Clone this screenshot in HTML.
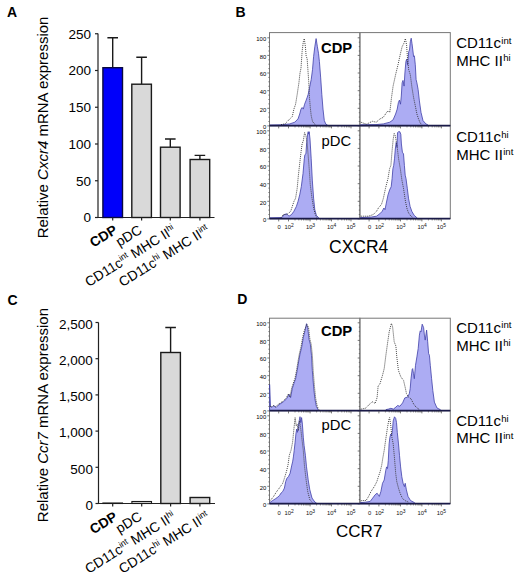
<!DOCTYPE html>
<html><head><meta charset="utf-8"><style>
html,body{margin:0;padding:0;background:#fff;width:520px;height:579px;overflow:hidden}
svg{display:block}
</style></head><body>
<svg width="520" height="579" viewBox="0 0 520 579" font-family='"Liberation Sans", sans-serif' fill="#000">
<rect width="520" height="579" fill="#fff"/>
<text x="7.0" y="17.1" font-weight="bold" font-size="14">A</text>
<text transform="translate(48.3,238.3) rotate(-90)" font-size="15">Relative <tspan font-style="italic">Cxcr4</tspan> mRNA expression</text>
<path d="M98,33.5 V217.5 H214.5" fill="none" stroke="#222" stroke-width="1.2"/>
<path d="M95,217.5 H98" stroke="#222" stroke-width="1.2"/>
<text x="91.0" y="222.4" font-size="13.5" text-anchor="end">0</text>
<path d="M95,180.75 H98" stroke="#222" stroke-width="1.2"/>
<text x="91.0" y="185.7" font-size="13.5" text-anchor="end">50</text>
<path d="M95,144.0 H98" stroke="#222" stroke-width="1.2"/>
<text x="91.0" y="148.9" font-size="13.5" text-anchor="end">100</text>
<path d="M95,107.25 H98" stroke="#222" stroke-width="1.2"/>
<text x="91.0" y="112.2" font-size="13.5" text-anchor="end">150</text>
<path d="M95,70.5 H98" stroke="#222" stroke-width="1.2"/>
<text x="91.0" y="75.4" font-size="13.5" text-anchor="end">200</text>
<path d="M95,33.75 H98" stroke="#222" stroke-width="1.2"/>
<text x="91.0" y="38.6" font-size="13.5" text-anchor="end">250</text>
<path d="M112.7,67.7 V37.8 M107.4,37.8 H118.0" stroke="#1a1a1a" stroke-width="1.4" fill="none"/>
<rect x="102.9" y="67.7" width="19.6" height="149.8" fill="#0000fa" stroke="#0a0a40" stroke-width="1.4"/>
<path d="M112.7,217.5 V220.5" stroke="#222" stroke-width="1.2"/>
<path d="M141.6,84.2 V57.2 M136.29999999999998,57.2 H146.9" stroke="#1a1a1a" stroke-width="1.4" fill="none"/>
<rect x="131.8" y="84.2" width="19.6" height="133.3" fill="#d9d9d9" stroke="#1a1a1a" stroke-width="1.4"/>
<path d="M141.6,217.5 V220.5" stroke="#222" stroke-width="1.2"/>
<path d="M170.3,147.2 V139.0 M165.0,139.0 H175.60000000000002" stroke="#1a1a1a" stroke-width="1.4" fill="none"/>
<rect x="160.5" y="147.2" width="19.6" height="70.3" fill="#d9d9d9" stroke="#1a1a1a" stroke-width="1.4"/>
<path d="M170.3,217.5 V220.5" stroke="#222" stroke-width="1.2"/>
<path d="M199.9,159.5 V155.4 M194.6,155.4 H205.20000000000002" stroke="#1a1a1a" stroke-width="1.4" fill="none"/>
<rect x="190.1" y="159.5" width="19.6" height="58.0" fill="#d9d9d9" stroke="#1a1a1a" stroke-width="1.4"/>
<path d="M199.9,217.5 V220.5" stroke="#222" stroke-width="1.2"/>
<text transform="translate(118.3,232.4) rotate(-32)" font-size="13.8" text-anchor="end"><tspan font-weight="bold">CDP</tspan></text>
<text transform="translate(143.0,232.4) rotate(-32)" font-size="13.8" text-anchor="end">pDC</text>
<text transform="translate(176.6,232.4) rotate(-32)" font-size="13.8" text-anchor="end">CD11c<tspan font-size="8.6" dy="-5">int</tspan><tspan dy="5"> MHC II</tspan><tspan font-size="8.6" dy="-5">hi</tspan></text>
<text transform="translate(210.5,232.4) rotate(-32)" font-size="13.8" text-anchor="end">CD11c<tspan font-size="8.6" dy="-5">hi</tspan><tspan dy="5"> MHC II</tspan><tspan font-size="8.6" dy="-5">int</tspan></text>
<text x="7.5" y="304.6" font-weight="bold" font-size="14">C</text>
<text transform="translate(48.3,522.2) rotate(-90)" font-size="15">Relative <tspan font-style="italic">Ccr7</tspan> mRNA expression</text>
<path d="M98.5,322.5 V503.5 H215.0" fill="none" stroke="#222" stroke-width="1.2"/>
<path d="M95.5,503.5 H98.5" stroke="#222" stroke-width="1.2"/>
<text x="92.9" y="509.7" font-size="13.5" text-anchor="end">0</text>
<path d="M95.5,467.3 H98.5" stroke="#222" stroke-width="1.2"/>
<text x="92.9" y="473.5" font-size="13.5" text-anchor="end">500</text>
<path d="M95.5,431.1 H98.5" stroke="#222" stroke-width="1.2"/>
<text x="92.9" y="437.3" font-size="13.5" text-anchor="end">1,000</text>
<path d="M95.5,394.9 H98.5" stroke="#222" stroke-width="1.2"/>
<text x="92.9" y="401.1" font-size="13.5" text-anchor="end">1,500</text>
<path d="M95.5,358.7 H98.5" stroke="#222" stroke-width="1.2"/>
<text x="92.9" y="364.9" font-size="13.5" text-anchor="end">2,000</text>
<path d="M95.5,322.5 H98.5" stroke="#222" stroke-width="1.2"/>
<text x="92.9" y="328.7" font-size="13.5" text-anchor="end">2,500</text>
<rect x="102.9" y="503.0" width="19.6" height="0.5" fill="#d9d9d9" stroke="#1a1a1a" stroke-width="1.1"/>
<path d="M112.7,503.5 V506.5" stroke="#222" stroke-width="1.2"/>
<rect x="131.9" y="501.5" width="19.6" height="2.0" fill="#d9d9d9" stroke="#1a1a1a" stroke-width="1.1"/>
<path d="M141.7,503.5 V506.5" stroke="#222" stroke-width="1.2"/>
<path d="M170.6,352.5 V327.5 M165.29999999999998,327.5 H175.9" stroke="#1a1a1a" stroke-width="1.4" fill="none"/>
<rect x="160.8" y="352.5" width="19.6" height="151.0" fill="#d9d9d9" stroke="#1a1a1a" stroke-width="1.4"/>
<path d="M170.6,503.5 V506.5" stroke="#222" stroke-width="1.2"/>
<rect x="190.1" y="497.5" width="19.6" height="6.0" fill="#d9d9d9" stroke="#1a1a1a" stroke-width="1.4"/>
<path d="M199.9,503.5 V506.5" stroke="#222" stroke-width="1.2"/>
<text transform="translate(118.3,519.0) rotate(-32)" font-size="13.8" text-anchor="end"><tspan font-weight="bold">CDP</tspan></text>
<text transform="translate(143.0,519.0) rotate(-32)" font-size="13.8" text-anchor="end">pDC</text>
<text transform="translate(176.6,519.0) rotate(-32)" font-size="13.8" text-anchor="end">CD11c<tspan font-size="8.6" dy="-5">int</tspan><tspan dy="5"> MHC II</tspan><tspan font-size="8.6" dy="-5">hi</tspan></text>
<text transform="translate(210.5,519.0) rotate(-32)" font-size="13.8" text-anchor="end">CD11c<tspan font-size="8.6" dy="-5">hi</tspan><tspan dy="5"> MHC II</tspan><tspan font-size="8.6" dy="-5">int</tspan></text>
<text x="279.2" y="229.1" font-size="5.8" text-anchor="middle" fill="#111">0</text>
<text x="289.1" y="229.1" font-size="5.8" text-anchor="middle" fill="#111">10<tspan font-size="4.9" dy="-2.2">2</tspan></text>
<text x="310.5" y="229.1" font-size="5.8" text-anchor="middle" fill="#111">10<tspan font-size="4.9" dy="-2.2">3</tspan></text>
<text x="331.7" y="229.1" font-size="5.8" text-anchor="middle" fill="#111">10<tspan font-size="4.9" dy="-2.2">4</tspan></text>
<text x="351.0" y="229.1" font-size="5.8" text-anchor="middle" fill="#111">10<tspan font-size="4.9" dy="-2.2">5</tspan></text>
<text x="369.6" y="229.1" font-size="5.8" text-anchor="middle" fill="#111">0</text>
<text x="379.5" y="229.1" font-size="5.8" text-anchor="middle" fill="#111">10<tspan font-size="4.9" dy="-2.2">2</tspan></text>
<text x="400.9" y="229.1" font-size="5.8" text-anchor="middle" fill="#111">10<tspan font-size="4.9" dy="-2.2">3</tspan></text>
<text x="422.1" y="229.1" font-size="5.8" text-anchor="middle" fill="#111">10<tspan font-size="4.9" dy="-2.2">4</tspan></text>
<text x="441.4" y="229.1" font-size="5.8" text-anchor="middle" fill="#111">10<tspan font-size="4.9" dy="-2.2">5</tspan></text>
<text x="279.2" y="515.1" font-size="5.8" text-anchor="middle" fill="#111">0</text>
<text x="289.1" y="515.1" font-size="5.8" text-anchor="middle" fill="#111">10<tspan font-size="4.9" dy="-2.2">2</tspan></text>
<text x="310.5" y="515.1" font-size="5.8" text-anchor="middle" fill="#111">10<tspan font-size="4.9" dy="-2.2">3</tspan></text>
<text x="331.7" y="515.1" font-size="5.8" text-anchor="middle" fill="#111">10<tspan font-size="4.9" dy="-2.2">4</tspan></text>
<text x="351.0" y="515.1" font-size="5.8" text-anchor="middle" fill="#111">10<tspan font-size="4.9" dy="-2.2">5</tspan></text>
<text x="369.6" y="515.1" font-size="5.8" text-anchor="middle" fill="#111">0</text>
<text x="379.5" y="515.1" font-size="5.8" text-anchor="middle" fill="#111">10<tspan font-size="4.9" dy="-2.2">2</tspan></text>
<text x="400.9" y="515.1" font-size="5.8" text-anchor="middle" fill="#111">10<tspan font-size="4.9" dy="-2.2">3</tspan></text>
<text x="422.1" y="515.1" font-size="5.8" text-anchor="middle" fill="#111">10<tspan font-size="4.9" dy="-2.2">4</tspan></text>
<text x="441.4" y="515.1" font-size="5.8" text-anchor="middle" fill="#111">10<tspan font-size="4.9" dy="-2.2">5</tspan></text>
<rect x="269.5" y="32.6" width="90.4" height="93.0" fill="none" stroke="#777" stroke-width="1"/>
<rect x="359.9" y="32.6" width="90.4" height="93.0" fill="none" stroke="#777" stroke-width="1"/>
<rect x="269.5" y="125.6" width="90.4" height="93.0" fill="none" stroke="#777" stroke-width="1"/>
<rect x="359.9" y="125.6" width="90.4" height="93.0" fill="none" stroke="#777" stroke-width="1"/>
<rect x="269.5" y="318.2" width="90.4" height="92.40000000000003" fill="none" stroke="#777" stroke-width="1"/>
<rect x="359.9" y="318.2" width="90.4" height="92.40000000000003" fill="none" stroke="#777" stroke-width="1"/>
<rect x="269.5" y="410.6" width="90.4" height="93.0" fill="none" stroke="#777" stroke-width="1"/>
<rect x="359.9" y="410.6" width="90.4" height="93.0" fill="none" stroke="#777" stroke-width="1"/>
<path d="M270.0,125.6 L270.0,125.0 L282.0,124.8 L289.8,123.9 L294.8,122.2 L298.0,118.9 L299.7,114.0 L301.0,109.1 L302.1,107.5 L303.3,109.1 L304.6,104.2 L305.9,100.9 L307.1,97.6 L308.2,94.3 L309.5,87.8 L311.2,79.6 L312.5,69.7 L313.6,56.6 L314.8,46.8 L316.1,38.6 L317.4,46.8 L318.5,53.3 L319.4,61.5 L320.7,77.9 L321.8,94.3 L323.0,109.1 L324.3,120.6 L325.9,124.2 L327.5,125.0 L327.5,125.6 Z" fill="#acacf3" stroke="#4040a8" stroke-width="0.8" stroke-linejoin="round"/>
<path d="M281.0,124.6 L284.9,123.9 L287.4,121.4 L289.8,118.9 L292.3,116.5 L293.9,109.1 L295.6,104.2 L297.2,94.3 L298.9,82.9 L300.0,73.0 L301.0,68.1 L302.1,51.7 L303.3,41.8 L304.3,38.6 L305.4,46.8 L306.2,56.6 L307.1,58.2 L307.9,69.7 L308.7,81.2 L309.5,97.6 L310.3,107.5 L311.2,115.7 L312.5,121.4 L314.4,123.9 L316.0,124.8" fill="none" stroke="#333" stroke-width="0.9" stroke-dasharray="1,1"/>
<text x="266.2" y="129.2" font-size="5.9" text-anchor="end" fill="#000">0</text>
<text x="266.2" y="111.6" font-size="5.9" text-anchor="end" fill="#000">20</text>
<text x="266.2" y="94.0" font-size="5.9" text-anchor="end" fill="#000">40</text>
<text x="266.2" y="76.3" font-size="5.9" text-anchor="end" fill="#000">60</text>
<text x="266.2" y="58.7" font-size="5.9" text-anchor="end" fill="#000">80</text>
<text x="266.2" y="41.1" font-size="5.9" text-anchor="end" fill="#000">100</text>
<path d="M267.3,125.9 H269.5 M268.4,121.5 H269.5 M268.4,117.1 H269.5 M268.4,112.7 H269.5 M267.3,108.3 H269.5 M268.4,103.9 H269.5 M268.4,99.5 H269.5 M268.4,95.1 H269.5 M267.3,90.7 H269.5 M268.4,86.3 H269.5 M268.4,81.8 H269.5 M268.4,77.4 H269.5 M267.3,73.0 H269.5 M268.4,68.6 H269.5 M268.4,64.2 H269.5 M268.4,59.8 H269.5 M267.3,55.4 H269.5 M268.4,51.0 H269.5 M268.4,46.6 H269.5 M268.4,42.2 H269.5 M267.3,37.8 H269.5" stroke="#555" stroke-width="0.8"/>
<path d="M360.5,125.6 L360.5,124.8 L376.0,124.6 L383.3,123.9 L389.8,122.2 L393.1,119.8 L395.6,114.0 L397.2,109.1 L398.4,102.5 L399.4,100.1 L400.5,104.2 L401.3,96.0 L402.1,82.9 L403.0,80.4 L404.1,86.1 L404.9,73.0 L405.9,61.5 L406.7,59.1 L407.6,64.8 L408.7,51.7 L409.5,50.0 L410.3,41.8 L411.2,38.2 L412.0,43.5 L412.8,50.0 L413.6,56.6 L414.4,55.8 L415.3,64.8 L416.1,79.6 L416.9,82.9 L418.1,89.4 L419.4,100.9 L421.0,112.4 L423.0,120.6 L425.9,123.9 L428.0,125.0 L428.0,125.6 Z" fill="#acacf3" stroke="#4040a8" stroke-width="0.8" stroke-linejoin="round"/>
<path d="M360.8,122.2 L366.5,124.2 L372.3,121.3 L376.2,122.2 L380.0,118.9 L383.3,117.3 L386.6,112.4 L388.2,110.7 L389.8,112.4 L391.5,97.6 L393.1,86.1 L395.6,74.7 L398.0,64.8 L400.5,53.3 L402.1,46.8 L403.8,43.5 L405.4,38.6 L406.6,45.1 L407.6,59.9 L408.7,69.7 L410.3,74.7 L412.0,87.8 L413.6,97.6 L415.3,105.8 L416.9,114.0 L418.5,118.9 L420.2,123.0 L422.0,124.8" fill="none" stroke="#333" stroke-width="0.9" stroke-dasharray="1,1"/>
<path d="M357.7,125.9 H359.9 M358.79999999999995,121.5 H359.9 M358.79999999999995,117.1 H359.9 M358.79999999999995,112.7 H359.9 M357.7,108.3 H359.9 M358.79999999999995,103.9 H359.9 M358.79999999999995,99.5 H359.9 M358.79999999999995,95.1 H359.9 M357.7,90.7 H359.9 M358.79999999999995,86.3 H359.9 M358.79999999999995,81.8 H359.9 M358.79999999999995,77.4 H359.9 M357.7,73.0 H359.9 M358.79999999999995,68.6 H359.9 M358.79999999999995,64.2 H359.9 M358.79999999999995,59.8 H359.9 M357.7,55.4 H359.9 M358.79999999999995,51.0 H359.9 M358.79999999999995,46.6 H359.9 M358.79999999999995,42.2 H359.9 M357.7,37.8 H359.9" stroke="#555" stroke-width="0.8"/>
<path d="M270.0,218.6 L270.0,217.8 L282.0,217.5 L284.1,214.6 L286.6,213.8 L289.0,216.2 L291.5,214.6 L293.9,211.3 L296.4,206.4 L298.0,201.5 L299.7,194.9 L301.3,186.7 L303.0,173.6 L304.3,158.8 L304.9,154.7 L305.9,153.9 L306.7,142.4 L307.6,134.2 L308.2,131.7 L308.7,134.2 L309.2,131.7 L310.0,139.1 L311.2,158.8 L312.3,180.1 L313.6,198.2 L314.8,209.7 L316.4,215.4 L318.5,217.5 L318.5,218.6 Z" fill="#acacf3" stroke="#4040a8" stroke-width="0.8" stroke-linejoin="round"/>
<path d="M281.0,217.6 L283.3,214.6 L286.6,214.6 L289.0,212.9 L290.7,211.3 L292.3,206.4 L293.9,201.5 L295.6,198.2 L297.2,188.3 L298.4,175.2 L299.7,163.7 L301.0,152.2 L302.1,144.0 L303.3,140.8 L304.6,132.6 L305.9,135.8 L307.1,142.4 L307.9,152.2 L309.2,168.7 L310.3,185.1 L312.0,198.2 L313.6,208.0 L315.3,214.6 L316.9,217.5" fill="none" stroke="#333" stroke-width="0.9" stroke-dasharray="1,1"/>
<text x="266.2" y="222.2" font-size="5.9" text-anchor="end" fill="#000">0</text>
<text x="266.2" y="204.6" font-size="5.9" text-anchor="end" fill="#000">20</text>
<text x="266.2" y="187.0" font-size="5.9" text-anchor="end" fill="#000">40</text>
<text x="266.2" y="169.3" font-size="5.9" text-anchor="end" fill="#000">60</text>
<text x="266.2" y="151.7" font-size="5.9" text-anchor="end" fill="#000">80</text>
<text x="266.2" y="134.1" font-size="5.9" text-anchor="end" fill="#000">100</text>
<path d="M267.3,218.9 H269.5 M268.4,214.5 H269.5 M268.4,210.1 H269.5 M268.4,205.7 H269.5 M267.3,201.3 H269.5 M268.4,196.9 H269.5 M268.4,192.5 H269.5 M268.4,188.1 H269.5 M267.3,183.7 H269.5 M268.4,179.3 H269.5 M268.4,174.8 H269.5 M268.4,170.4 H269.5 M267.3,166.0 H269.5 M268.4,161.6 H269.5 M268.4,157.2 H269.5 M268.4,152.8 H269.5 M267.3,148.4 H269.5 M268.4,144.0 H269.5 M268.4,139.6 H269.5 M268.4,135.2 H269.5 M267.3,130.8 H269.5" stroke="#555" stroke-width="0.8"/>
<path d="M360.5,218.6 L360.5,217.6 L371.6,217.0 L376.5,216.2 L379.8,213.8 L382.2,211.3 L383.9,208.0 L385.0,209.7 L386.3,203.1 L388.0,194.9 L389.6,190.0 L391.2,186.7 L392.1,178.5 L392.9,168.7 L393.7,165.4 L394.5,158.8 L395.3,149.0 L396.2,142.4 L397.0,147.3 L397.5,132.6 L398.6,131.7 L399.8,131.7 L400.8,134.2 L401.4,144.0 L402.4,152.2 L403.5,153.9 L404.4,165.4 L405.2,175.2 L406.0,178.5 L407.3,188.3 L408.5,198.2 L410.1,206.4 L411.8,211.3 L414.2,215.4 L416.7,217.5 L416.7,218.6 Z" fill="#acacf3" stroke="#4040a8" stroke-width="0.8" stroke-linejoin="round"/>
<path d="M360.8,216.2 L368.3,216.2 L373.2,214.6 L376.5,211.3 L378.9,207.2 L381.4,204.7 L383.4,198.2 L385.5,188.3 L388.0,178.5 L389.6,168.7 L390.9,165.4 L392.1,150.6 L393.2,139.1 L394.2,133.4 L395.3,135.8 L397.0,145.7 L398.6,158.8 L400.3,168.7 L401.9,180.1 L403.5,188.3 L405.2,199.8 L406.8,208.0 L408.5,212.9 L410.9,216.2 L413.0,217.5" fill="none" stroke="#333" stroke-width="0.9" stroke-dasharray="1,1"/>
<path d="M357.7,218.9 H359.9 M358.79999999999995,214.5 H359.9 M358.79999999999995,210.1 H359.9 M358.79999999999995,205.7 H359.9 M357.7,201.3 H359.9 M358.79999999999995,196.9 H359.9 M358.79999999999995,192.5 H359.9 M358.79999999999995,188.1 H359.9 M357.7,183.7 H359.9 M358.79999999999995,179.3 H359.9 M358.79999999999995,174.8 H359.9 M358.79999999999995,170.4 H359.9 M357.7,166.0 H359.9 M358.79999999999995,161.6 H359.9 M358.79999999999995,157.2 H359.9 M358.79999999999995,152.8 H359.9 M357.7,148.4 H359.9 M358.79999999999995,144.0 H359.9 M358.79999999999995,139.6 H359.9 M358.79999999999995,135.2 H359.9 M357.7,130.8 H359.9" stroke="#555" stroke-width="0.8"/>
<path d="M269.6,410.6 L269.6,384.4 L270.5,406.6 L272.1,407.4 L273.7,405.8 L276.2,407.4 L278.7,404.9 L281.1,403.3 L283.6,401.7 L285.2,400.0 L286.9,398.4 L289.0,394.3 L290.6,397.6 L292.3,388.5 L293.9,383.6 L295.6,378.7 L297.2,370.5 L298.8,360.7 L300.0,354.1 L301.6,347.5 L303.3,337.7 L304.9,331.1 L306.5,323.7 L307.7,327.8 L309.0,339.3 L310.3,344.2 L311.5,355.7 L312.3,370.5 L313.6,386.9 L314.8,398.4 L316.4,406.6 L318.0,409.5 L318.0,410.6 Z" fill="#acacf3" stroke="#4040a8" stroke-width="0.8" stroke-linejoin="round"/>
<path d="M269.9,406.1 L271.5,406.9 L273.1,405.3 L275.6,406.9 L278.1,404.4 L280.5,402.8 L283.0,401.2 L284.6,399.5 L286.3,397.9 L288.4,393.8 L290.0,397.1 L291.7,388.0 L293.3,383.1 L295.0,378.2 L296.6,370.0 L298.2,360.2 L299.4,353.6 L301.0,347.0 L302.7,337.2 L304.3,330.6 L306.9,324.4 L308.6,327.8 L309.9,339.3 L311.2,344.2 L312.4,355.7 L313.2,370.5 L314.5,386.9 L315.7,398.4 L317.3,406.6 L318.9,409.5" fill="none" stroke="#333" stroke-width="0.9" stroke-dasharray="1,1"/>
<text x="266.2" y="414.2" font-size="5.9" text-anchor="end" fill="#000">0</text>
<text x="266.2" y="396.6" font-size="5.9" text-anchor="end" fill="#000">20</text>
<text x="266.2" y="379.0" font-size="5.9" text-anchor="end" fill="#000">40</text>
<text x="266.2" y="361.3" font-size="5.9" text-anchor="end" fill="#000">60</text>
<text x="266.2" y="343.7" font-size="5.9" text-anchor="end" fill="#000">80</text>
<text x="266.2" y="326.1" font-size="5.9" text-anchor="end" fill="#000">100</text>
<path d="M267.3,410.9 H269.5 M268.4,406.5 H269.5 M268.4,402.1 H269.5 M268.4,397.7 H269.5 M267.3,393.3 H269.5 M268.4,388.9 H269.5 M268.4,384.5 H269.5 M268.4,380.1 H269.5 M267.3,375.7 H269.5 M268.4,371.3 H269.5 M268.4,366.9 H269.5 M268.4,362.4 H269.5 M267.3,358.0 H269.5 M268.4,353.6 H269.5 M268.4,349.2 H269.5 M268.4,344.8 H269.5 M267.3,340.4 H269.5 M268.4,336.0 H269.5 M268.4,331.6 H269.5 M268.4,327.2 H269.5 M267.3,322.8 H269.5" stroke="#555" stroke-width="0.8"/>
<path d="M386.0,410.6 L386.0,409.6 L388.4,409.1 L390.9,408.3 L393.4,409.1 L395.9,407.1 L397.6,405.5 L399.8,406.3 L402.6,402.9 L404.8,397.9 L407.6,397.1 L409.3,393.7 L410.2,388.7 L411.0,378.7 L412.2,369.4 L412.7,368.6 L413.5,373.6 L414.3,378.7 L415.5,365.3 L416.9,356.9 L418.2,348.5 L419.4,335.1 L420.2,330.9 L421.0,331.8 L422.2,324.2 L423.6,327.6 L424.4,335.1 L425.2,340.1 L426.6,330.1 L427.7,341.8 L428.6,353.5 L429.4,355.2 L430.3,365.3 L431.6,378.7 L432.8,390.4 L434.4,402.1 L437.0,408.0 L440.3,409.6 L440.3,410.6 Z" fill="#acacf3" stroke="#4040a8" stroke-width="0.8" stroke-linejoin="round"/>
<path d="M360.8,409.2 L365.6,408.2 L369.4,404.3 L372.3,401.8 L375.2,403.4 L377.1,397.6 L378.1,386.2 L380.0,383.7 L382.5,375.3 L384.2,368.6 L385.9,355.2 L387.5,343.5 L389.2,331.8 L391.4,323.4 L392.6,326.7 L394.2,341.8 L395.9,346.0 L396.8,356.9 L398.4,370.3 L400.9,377.0 L403.5,380.3 L405.1,387.0 L406.5,393.7 L408.5,397.1 L411.0,398.8 L413.5,403.8 L416.0,407.1 L419.4,409.6" fill="none" stroke="#333" stroke-width="0.9" stroke-dasharray="1,1"/>
<path d="M357.7,410.9 H359.9 M358.79999999999995,406.5 H359.9 M358.79999999999995,402.1 H359.9 M358.79999999999995,397.7 H359.9 M357.7,393.3 H359.9 M358.79999999999995,388.9 H359.9 M358.79999999999995,384.5 H359.9 M358.79999999999995,380.1 H359.9 M357.7,375.7 H359.9 M358.79999999999995,371.3 H359.9 M358.79999999999995,366.9 H359.9 M358.79999999999995,362.4 H359.9 M357.7,358.0 H359.9 M358.79999999999995,353.6 H359.9 M358.79999999999995,349.2 H359.9 M358.79999999999995,344.8 H359.9 M357.7,340.4 H359.9 M358.79999999999995,336.0 H359.9 M358.79999999999995,331.6 H359.9 M358.79999999999995,327.2 H359.9 M357.7,322.8 H359.9" stroke="#555" stroke-width="0.8"/>
<path d="M269.8,503.6 L269.8,502.5 L270.5,502.0 L272.9,500.4 L275.4,498.8 L277.8,497.1 L279.5,495.5 L281.1,493.0 L282.8,491.4 L284.4,488.1 L285.7,481.5 L286.9,478.3 L288.5,476.6 L290.1,473.3 L291.8,465.1 L292.6,461.9 L293.4,456.9 L294.2,450.4 L295.1,442.2 L295.9,434.0 L296.7,429.0 L297.5,432.3 L298.3,425.8 L299.2,420.8 L300.0,416.7 L300.8,422.5 L301.6,417.6 L302.4,424.1 L303.3,437.2 L304.1,445.4 L305.4,455.3 L306.5,466.8 L308.2,479.9 L309.8,489.7 L312.0,498.0 L314.8,502.0 L316.5,503.0 L316.5,503.6 Z" fill="#acacf3" stroke="#4040a8" stroke-width="0.8" stroke-linejoin="round"/>
<path d="M270.5,500.4 L273.7,496.3 L276.2,492.2 L278.7,488.9 L281.1,485.6 L282.8,483.2 L284.4,478.3 L286.4,471.7 L288.0,465.1 L289.3,455.3 L291.0,450.4 L292.6,442.2 L293.9,429.0 L295.1,417.6 L296.2,425.8 L297.2,424.1 L298.3,430.7 L299.5,420.8 L300.8,429.0 L302.1,440.5 L303.3,450.4 L304.4,465.1 L306.1,479.9 L307.7,491.4 L309.8,499.6 L312.3,502.5" fill="none" stroke="#333" stroke-width="0.9" stroke-dasharray="1,1"/>
<text x="266.2" y="507.2" font-size="5.9" text-anchor="end" fill="#000">0</text>
<text x="266.2" y="489.6" font-size="5.9" text-anchor="end" fill="#000">20</text>
<text x="266.2" y="472.0" font-size="5.9" text-anchor="end" fill="#000">40</text>
<text x="266.2" y="454.3" font-size="5.9" text-anchor="end" fill="#000">60</text>
<text x="266.2" y="436.7" font-size="5.9" text-anchor="end" fill="#000">80</text>
<text x="266.2" y="419.1" font-size="5.9" text-anchor="end" fill="#000">100</text>
<path d="M267.3,503.9 H269.5 M268.4,499.5 H269.5 M268.4,495.1 H269.5 M268.4,490.7 H269.5 M267.3,486.3 H269.5 M268.4,481.9 H269.5 M268.4,477.5 H269.5 M268.4,473.1 H269.5 M267.3,468.7 H269.5 M268.4,464.3 H269.5 M268.4,459.9 H269.5 M268.4,455.4 H269.5 M267.3,451.0 H269.5 M268.4,446.6 H269.5 M268.4,442.2 H269.5 M268.4,437.8 H269.5 M267.3,433.4 H269.5 M268.4,429.0 H269.5 M268.4,424.6 H269.5 M268.4,420.2 H269.5 M267.3,415.8 H269.5" stroke="#555" stroke-width="0.8"/>
<path d="M360.5,503.6 L360.5,502.6 L365.3,502.2 L370.2,501.4 L372.7,498.1 L375.1,494.8 L377.1,493.2 L379.3,496.4 L380.9,491.5 L382.5,483.3 L384.2,480.0 L385.8,470.2 L386.6,466.9 L387.5,468.5 L388.3,460.3 L389.1,443.9 L389.9,437.3 L390.8,434.0 L391.6,435.6 L392.4,430.7 L393.2,420.9 L394.5,416.8 L395.7,418.4 L396.5,422.5 L397.3,432.4 L398.5,443.9 L399.5,455.4 L400.6,466.9 L401.8,476.7 L403.1,483.3 L404.4,486.6 L405.2,483.3 L406.4,489.9 L408.0,496.4 L410.5,500.5 L414.6,502.7 L414.6,503.6 Z" fill="#acacf3" stroke="#4040a8" stroke-width="0.8" stroke-linejoin="round"/>
<path d="M360.8,500.8 L362.8,500.5 L366.1,500.5 L368.6,496.4 L371.0,491.5 L374.3,486.6 L376.8,481.7 L378.4,476.7 L380.1,471.8 L381.7,465.2 L383.0,457.0 L384.2,450.4 L385.8,438.9 L387.5,427.4 L388.8,420.0 L389.6,417.6 L390.8,425.8 L391.9,437.3 L393.2,443.9 L394.4,457.0 L395.7,473.4 L396.8,481.7 L398.5,488.2 L400.1,493.2 L402.3,498.1 L404.7,500.5 L408.8,502.2" fill="none" stroke="#333" stroke-width="0.9" stroke-dasharray="1,1"/>
<path d="M357.7,503.9 H359.9 M358.79999999999995,499.5 H359.9 M358.79999999999995,495.1 H359.9 M358.79999999999995,490.7 H359.9 M357.7,486.3 H359.9 M358.79999999999995,481.9 H359.9 M358.79999999999995,477.5 H359.9 M358.79999999999995,473.1 H359.9 M357.7,468.7 H359.9 M358.79999999999995,464.3 H359.9 M358.79999999999995,459.9 H359.9 M358.79999999999995,455.4 H359.9 M357.7,451.0 H359.9 M358.79999999999995,446.6 H359.9 M358.79999999999995,442.2 H359.9 M358.79999999999995,437.8 H359.9 M357.7,433.4 H359.9 M358.79999999999995,429.0 H359.9 M358.79999999999995,424.6 H359.9 M358.79999999999995,420.2 H359.9 M357.7,415.8 H359.9" stroke="#555" stroke-width="0.8"/>
<path d="M269.5,125.6 H359.9" stroke="#1a1a48" stroke-width="1.6"/>
<path d="M278.7,126.1 V128.4 M288.5,126.1 V128.4 M310.1,126.1 V128.4 M331.5,126.1 V128.4 M351.0,126.1 V128.4 M295.0,126.1 V127.39999999999999 M298.8,126.1 V127.39999999999999 M301.4,126.1 V127.39999999999999 M303.5,126.1 V127.39999999999999 M305.2,126.1 V127.39999999999999 M306.7,126.1 V127.39999999999999 M307.9,126.1 V127.39999999999999 M309.0,126.1 V127.39999999999999 M316.6,126.1 V127.39999999999999 M320.4,126.1 V127.39999999999999 M323.0,126.1 V127.39999999999999 M325.1,126.1 V127.39999999999999 M326.8,126.1 V127.39999999999999 M328.3,126.1 V127.39999999999999 M329.5,126.1 V127.39999999999999 M330.6,126.1 V127.39999999999999 M338.0,126.1 V127.39999999999999 M341.8,126.1 V127.39999999999999 M344.4,126.1 V127.39999999999999 M346.5,126.1 V127.39999999999999 M348.2,126.1 V127.39999999999999 M349.7,126.1 V127.39999999999999" stroke="#444" stroke-width="0.7"/>
<path d="M359.9,125.6 H450.29999999999995" stroke="#1a1a48" stroke-width="1.6"/>
<path d="M369.1,126.1 V128.4 M378.9,126.1 V128.4 M400.5,126.1 V128.4 M421.9,126.1 V128.4 M441.4,126.1 V128.4 M385.4,126.1 V127.39999999999999 M389.2,126.1 V127.39999999999999 M391.8,126.1 V127.39999999999999 M393.9,126.1 V127.39999999999999 M395.6,126.1 V127.39999999999999 M397.1,126.1 V127.39999999999999 M398.3,126.1 V127.39999999999999 M399.4,126.1 V127.39999999999999 M407.0,126.1 V127.39999999999999 M410.8,126.1 V127.39999999999999 M413.4,126.1 V127.39999999999999 M415.5,126.1 V127.39999999999999 M417.2,126.1 V127.39999999999999 M418.7,126.1 V127.39999999999999 M419.9,126.1 V127.39999999999999 M421.0,126.1 V127.39999999999999 M428.4,126.1 V127.39999999999999 M432.2,126.1 V127.39999999999999 M434.8,126.1 V127.39999999999999 M436.9,126.1 V127.39999999999999 M438.6,126.1 V127.39999999999999 M440.1,126.1 V127.39999999999999" stroke="#444" stroke-width="0.7"/>
<path d="M269.5,218.6 H359.9" stroke="#1a1a48" stroke-width="1.6"/>
<path d="M278.7,219.1 V221.4 M288.5,219.1 V221.4 M310.1,219.1 V221.4 M331.5,219.1 V221.4 M351.0,219.1 V221.4 M295.0,219.1 V220.4 M298.8,219.1 V220.4 M301.4,219.1 V220.4 M303.5,219.1 V220.4 M305.2,219.1 V220.4 M306.7,219.1 V220.4 M307.9,219.1 V220.4 M309.0,219.1 V220.4 M316.6,219.1 V220.4 M320.4,219.1 V220.4 M323.0,219.1 V220.4 M325.1,219.1 V220.4 M326.8,219.1 V220.4 M328.3,219.1 V220.4 M329.5,219.1 V220.4 M330.6,219.1 V220.4 M338.0,219.1 V220.4 M341.8,219.1 V220.4 M344.4,219.1 V220.4 M346.5,219.1 V220.4 M348.2,219.1 V220.4 M349.7,219.1 V220.4" stroke="#444" stroke-width="0.7"/>
<path d="M359.9,218.6 H450.29999999999995" stroke="#1a1a48" stroke-width="1.6"/>
<path d="M369.1,219.1 V221.4 M378.9,219.1 V221.4 M400.5,219.1 V221.4 M421.9,219.1 V221.4 M441.4,219.1 V221.4 M385.4,219.1 V220.4 M389.2,219.1 V220.4 M391.8,219.1 V220.4 M393.9,219.1 V220.4 M395.6,219.1 V220.4 M397.1,219.1 V220.4 M398.3,219.1 V220.4 M399.4,219.1 V220.4 M407.0,219.1 V220.4 M410.8,219.1 V220.4 M413.4,219.1 V220.4 M415.5,219.1 V220.4 M417.2,219.1 V220.4 M418.7,219.1 V220.4 M419.9,219.1 V220.4 M421.0,219.1 V220.4 M428.4,219.1 V220.4 M432.2,219.1 V220.4 M434.8,219.1 V220.4 M436.9,219.1 V220.4 M438.6,219.1 V220.4 M440.1,219.1 V220.4" stroke="#444" stroke-width="0.7"/>
<path d="M269.5,410.6 H359.9" stroke="#1a1a48" stroke-width="1.6"/>
<path d="M278.7,411.1 V413.40000000000003 M288.5,411.1 V413.40000000000003 M310.1,411.1 V413.40000000000003 M331.5,411.1 V413.40000000000003 M351.0,411.1 V413.40000000000003 M295.0,411.1 V412.40000000000003 M298.8,411.1 V412.40000000000003 M301.4,411.1 V412.40000000000003 M303.5,411.1 V412.40000000000003 M305.2,411.1 V412.40000000000003 M306.7,411.1 V412.40000000000003 M307.9,411.1 V412.40000000000003 M309.0,411.1 V412.40000000000003 M316.6,411.1 V412.40000000000003 M320.4,411.1 V412.40000000000003 M323.0,411.1 V412.40000000000003 M325.1,411.1 V412.40000000000003 M326.8,411.1 V412.40000000000003 M328.3,411.1 V412.40000000000003 M329.5,411.1 V412.40000000000003 M330.6,411.1 V412.40000000000003 M338.0,411.1 V412.40000000000003 M341.8,411.1 V412.40000000000003 M344.4,411.1 V412.40000000000003 M346.5,411.1 V412.40000000000003 M348.2,411.1 V412.40000000000003 M349.7,411.1 V412.40000000000003" stroke="#444" stroke-width="0.7"/>
<path d="M359.9,410.6 H450.29999999999995" stroke="#1a1a48" stroke-width="1.6"/>
<path d="M369.1,411.1 V413.40000000000003 M378.9,411.1 V413.40000000000003 M400.5,411.1 V413.40000000000003 M421.9,411.1 V413.40000000000003 M441.4,411.1 V413.40000000000003 M385.4,411.1 V412.40000000000003 M389.2,411.1 V412.40000000000003 M391.8,411.1 V412.40000000000003 M393.9,411.1 V412.40000000000003 M395.6,411.1 V412.40000000000003 M397.1,411.1 V412.40000000000003 M398.3,411.1 V412.40000000000003 M399.4,411.1 V412.40000000000003 M407.0,411.1 V412.40000000000003 M410.8,411.1 V412.40000000000003 M413.4,411.1 V412.40000000000003 M415.5,411.1 V412.40000000000003 M417.2,411.1 V412.40000000000003 M418.7,411.1 V412.40000000000003 M419.9,411.1 V412.40000000000003 M421.0,411.1 V412.40000000000003 M428.4,411.1 V412.40000000000003 M432.2,411.1 V412.40000000000003 M434.8,411.1 V412.40000000000003 M436.9,411.1 V412.40000000000003 M438.6,411.1 V412.40000000000003 M440.1,411.1 V412.40000000000003" stroke="#444" stroke-width="0.7"/>
<path d="M269.5,503.6 H359.9" stroke="#1a1a48" stroke-width="1.6"/>
<path d="M278.7,504.1 V506.40000000000003 M288.5,504.1 V506.40000000000003 M310.1,504.1 V506.40000000000003 M331.5,504.1 V506.40000000000003 M351.0,504.1 V506.40000000000003 M295.0,504.1 V505.40000000000003 M298.8,504.1 V505.40000000000003 M301.4,504.1 V505.40000000000003 M303.5,504.1 V505.40000000000003 M305.2,504.1 V505.40000000000003 M306.7,504.1 V505.40000000000003 M307.9,504.1 V505.40000000000003 M309.0,504.1 V505.40000000000003 M316.6,504.1 V505.40000000000003 M320.4,504.1 V505.40000000000003 M323.0,504.1 V505.40000000000003 M325.1,504.1 V505.40000000000003 M326.8,504.1 V505.40000000000003 M328.3,504.1 V505.40000000000003 M329.5,504.1 V505.40000000000003 M330.6,504.1 V505.40000000000003 M338.0,504.1 V505.40000000000003 M341.8,504.1 V505.40000000000003 M344.4,504.1 V505.40000000000003 M346.5,504.1 V505.40000000000003 M348.2,504.1 V505.40000000000003 M349.7,504.1 V505.40000000000003" stroke="#444" stroke-width="0.7"/>
<path d="M359.9,503.6 H450.29999999999995" stroke="#1a1a48" stroke-width="1.6"/>
<path d="M369.1,504.1 V506.40000000000003 M378.9,504.1 V506.40000000000003 M400.5,504.1 V506.40000000000003 M421.9,504.1 V506.40000000000003 M441.4,504.1 V506.40000000000003 M385.4,504.1 V505.40000000000003 M389.2,504.1 V505.40000000000003 M391.8,504.1 V505.40000000000003 M393.9,504.1 V505.40000000000003 M395.6,504.1 V505.40000000000003 M397.1,504.1 V505.40000000000003 M398.3,504.1 V505.40000000000003 M399.4,504.1 V505.40000000000003 M407.0,504.1 V505.40000000000003 M410.8,504.1 V505.40000000000003 M413.4,504.1 V505.40000000000003 M415.5,504.1 V505.40000000000003 M417.2,504.1 V505.40000000000003 M418.7,504.1 V505.40000000000003 M419.9,504.1 V505.40000000000003 M421.0,504.1 V505.40000000000003 M428.4,504.1 V505.40000000000003 M432.2,504.1 V505.40000000000003 M434.8,504.1 V505.40000000000003 M436.9,504.1 V505.40000000000003 M438.6,504.1 V505.40000000000003 M440.1,504.1 V505.40000000000003" stroke="#444" stroke-width="0.7"/>
<text x="235.5" y="16.9" font-weight="bold" font-size="14">B</text>
<text x="237.3" y="303.7" font-weight="bold" font-size="14">D</text>
<text x="321.0" y="52.6" font-weight="bold" font-size="14.8">CDP</text>
<text x="321.5" y="146" font-size="14.8">pDC</text>
<text x="321.0" y="336.4" font-weight="bold" font-size="14.8">CDP</text>
<text x="321.5" y="430.1" font-size="14.8">pDC</text>
<text x="456.2" y="48.2" font-size="15">CD11c<tspan font-size="9.6" dy="-4.3" dx="0.3">int</tspan></text>
<text x="456.2" y="65.7" font-size="15">MHC II<tspan font-size="9.6" dy="-4.3" dx="0.3">hi</tspan></text>
<text x="456.2" y="141.8" font-size="15">CD11c<tspan font-size="9.6" dy="-4.3" dx="0.3">hi</tspan></text>
<text x="456.2" y="159.7" font-size="15">MHC II<tspan font-size="9.6" dy="-4.3" dx="0.3">int</tspan></text>
<text x="456.2" y="332.6" font-size="15">CD11c<tspan font-size="9.6" dy="-4.3" dx="0.3">int</tspan></text>
<text x="456.2" y="350.6" font-size="15">MHC II<tspan font-size="9.6" dy="-4.3" dx="0.3">hi</tspan></text>
<text x="456.2" y="425.9" font-size="15">CD11c<tspan font-size="9.6" dy="-4.3" dx="0.3">hi</tspan></text>
<text x="456.2" y="443.2" font-size="15">MHC II<tspan font-size="9.6" dy="-4.3" dx="0.3">int</tspan></text>
<text x="358.7" y="252.9" font-size="17.5" text-anchor="middle">CXCR4</text>
<text x="359.2" y="536.5" font-size="17" text-anchor="middle">CCR7</text>
</svg>
</body></html>
